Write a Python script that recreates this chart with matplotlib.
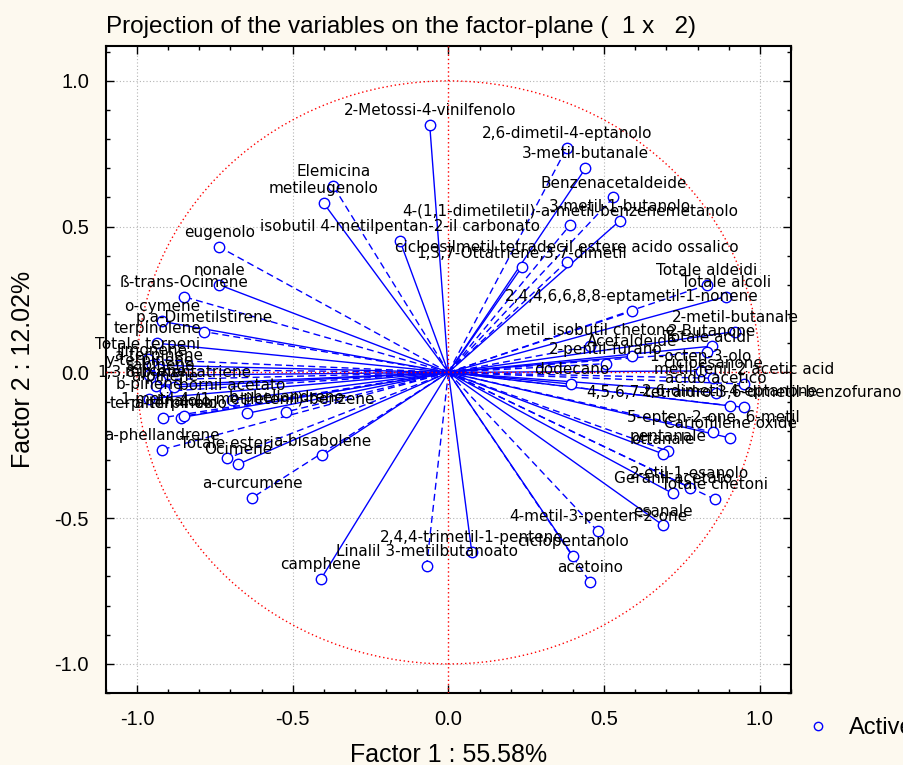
import matplotlib.pyplot as plt
from matplotlib.patches import Circle
from matplotlib.lines import Line2D
from matplotlib.ticker import MultipleLocator

# variable names and their coordinates on factor 1 / factor 2
names = [
    "2-Metossi-4-vinilfenolo", "2,6-dimetil-4-eptanolo", "3-metil-butanale",
    "Benzenacetaldeide", "3-metil-1-butanolo",
    "4-(1,1-dimetiletil)-a-metil-benzenemetanolo",
    "isobutil 4-metilpentan-2-il carbonato",
    "cicloesilmetil tetradecil estere acido ossalico",
    "1,3,7-Ottatriene,3,7-dimetil", "Totale aldeidi", "Totale alcoli",
    "2,4,4,6,6,8,8-eptametil-1-nonene", "2-metil-butanale",
    "Elemicina", "metileugenolo", "eugenolo", "nonale", "ß-trans-Ocimene",
    "o-cymene", "p,a-Dimetilstirene", "terpinolene",
    "metil_isobutil chetone", "2-Butanone", "Totale acidi", "Acetaldeide",
    "2-pentil-furano", "1-octen-3-olo", "cicloesanone", "dodecano",
    "metil-fenil-2 acetic acid", "acido acetico",
    "4,5,6,7-tetraidro-3,6-dimetil-benzofurano", "2,6-dimetil-4-eptanone",
    "5-epten-2-one, 6-metil", "Cariofillene oxide", "pentanale", "ottanale",
    "2-etil-1-esanolo", "Geranil acetato", "Totale chetoni", "esanale",
    "4-metil-3-penten-2-one", "ciclopentanolo", "acetoino",
    "2,4,4-trimetil-1-pentene", "Linalil 3-metilbutanoato", "camphene",
    "a-curcumene", "a-bisabolene", "Totale esteri", "Ocimene",
    "a-phellandrene", "1-metil-4-(1-metiletenil)-benzene", "b-phellandrene",
    "bornil acetato", "Totale terpeni", "limonene", "a-terpinene",
    "y-terpinene", "sabinene", "mircene", "a-pinene", "1,3,8-p-mentatriene",
    "terpinen-4-olo", "a-terpineolo", "linalolo", "b-pinene",
]
f1 = [
    -0.06, 0.38, 0.44, 0.53, 0.55, 0.39, -0.155, 0.38, 0.235, 0.83, 0.89,
    0.59, 0.92, -0.37, -0.40, -0.735, -0.735, -0.85, -0.92, -0.785, -0.935,
    0.455, 0.845, 0.83, 0.59, 0.505, 0.81, 0.85, 0.395, 0.95, 0.86, 0.95,
    0.905, 0.85, 0.905, 0.705, 0.69, 0.775, 0.72, 0.855, 0.69, 0.48, 0.40,
    0.455, 0.075, -0.07, -0.41, -0.63, -0.405, -0.71, -0.675, -0.92,
    -0.645, -0.52, -0.695, -0.965, -0.95, -0.93, -0.96, -0.925, -0.94,
    -0.91, -0.88, -0.915, -0.86, -0.85, -0.96,
]
f2 = [
    0.85, 0.77, 0.70, 0.60, 0.52, 0.505, 0.45, 0.38, 0.36, 0.30, 0.26,
    0.21, 0.14, 0.64, 0.58, 0.43, 0.30, 0.26, 0.175, 0.14, 0.10,
    0.09, 0.09, 0.07, 0.055, 0.03, 0.005, -0.02, -0.04, -0.04, -0.07, -0.12,
    -0.115, -0.205, -0.225, -0.27, -0.28, -0.395, -0.415, -0.435, -0.525,
    -0.545, -0.63, -0.72, -0.615, -0.665, -0.71, -0.43, -0.285, -0.295,
    -0.315, -0.265, -0.14, -0.135, -0.095, 0.045, 0.025, 0.01, -0.01,
    -0.025, -0.045, -0.065, -0.05, -0.155, -0.155, -0.15, -0.09,
]

blue = "#0000ff"
plt.rcParams["font.family"] = ["Liberation Sans", "DejaVu Sans"]

fig = plt.figure(figsize=(9.04, 7.65), dpi=100, facecolor="#fdf9ef")
ax = fig.add_axes([0.117, 0.094, 0.758, 0.846])
ax.set_facecolor("white")

ax.set_xlim(-1.1, 1.1)
ax.set_ylim(-1.1, 1.12)

# grid + unit circle + zero lines
for v in (-1.0, -0.5, 0.5, 1.0):
    ax.axvline(v, color="#b4b4b4", ls=(0, (1, 2)), lw=0.8, zorder=1)
    ax.axhline(v, color="#b4b4b4", ls=(0, (1, 2)), lw=0.8, zorder=1)
ax.axvline(0, color="red", ls=(0, (1, 2)), lw=1, zorder=3)
ax.axhline(0, color="red", ls=(0, (1, 2)), lw=1, zorder=3)
ax.add_patch(Circle((0, 0), 1.0, fill=False, ec="red", ls=(0, (1, 2)), lw=1, zorder=3))

# vectors from the origin
for i, (n, x, y) in enumerate(zip(names, f1, f2)):
    ls = "-" if i % 2 == 0 else (0, (5, 3))
    ax.plot([0, x], [0, y], color=blue, lw=1, ls=ls, zorder=2)
ax.plot(f1, f2, ls="none", marker="o", ms=7.5, mfc="white", mec=blue, mew=1, zorder=4)

for n, x, y in zip(names, f1, f2):
    ax.annotate(n, (x, y), xytext=(0, 5), textcoords="offset points",
                ha="center", va="bottom", fontsize=11, family="DejaVu Sans",
                color="black", zorder=5, annotation_clip=False)

ticks = [-1.0, -0.5, 0.0, 0.5, 1.0]
ax.set_xticks(ticks)
ax.set_yticks(ticks)
ax.set_xticklabels(["-1.0", "-0.5", "0.0", "0.5", "1.0"], fontsize=14.5)
ax.set_yticklabels(["-1.0", "-0.5", "0.0", "0.5", "1.0"], fontsize=14.5)
ax.xaxis.set_minor_locator(MultipleLocator(0.1))
ax.yaxis.set_minor_locator(MultipleLocator(0.1))
ax.tick_params(which="both", direction="in", top=True, right=True, width=1)
ax.tick_params(which="major", length=6, pad=12)
ax.tick_params(which="minor", length=3)
for s in ax.spines.values():
    s.set_linewidth(1.5)

ax.set_title("Projection of the variables on the factor-plane (  1 x   2)",
             loc="left", fontsize=17.5, pad=9)
ax.set_xlabel("Factor 1 : 55.58%", fontsize=18, labelpad=10)
ax.set_ylabel("Factor 2 : 12.02%", fontsize=18, labelpad=14)

h = Line2D([], [], ls="none", marker="o", ms=6, mfc="none", mec=blue)
fig.legend([h], ["Active"], loc="center left", bbox_to_anchor=(0.855, 0.048),
           frameon=False, fontsize=17, handletextpad=0.3)

fig.savefig("out.png", dpi=100, facecolor=fig.get_facecolor())
